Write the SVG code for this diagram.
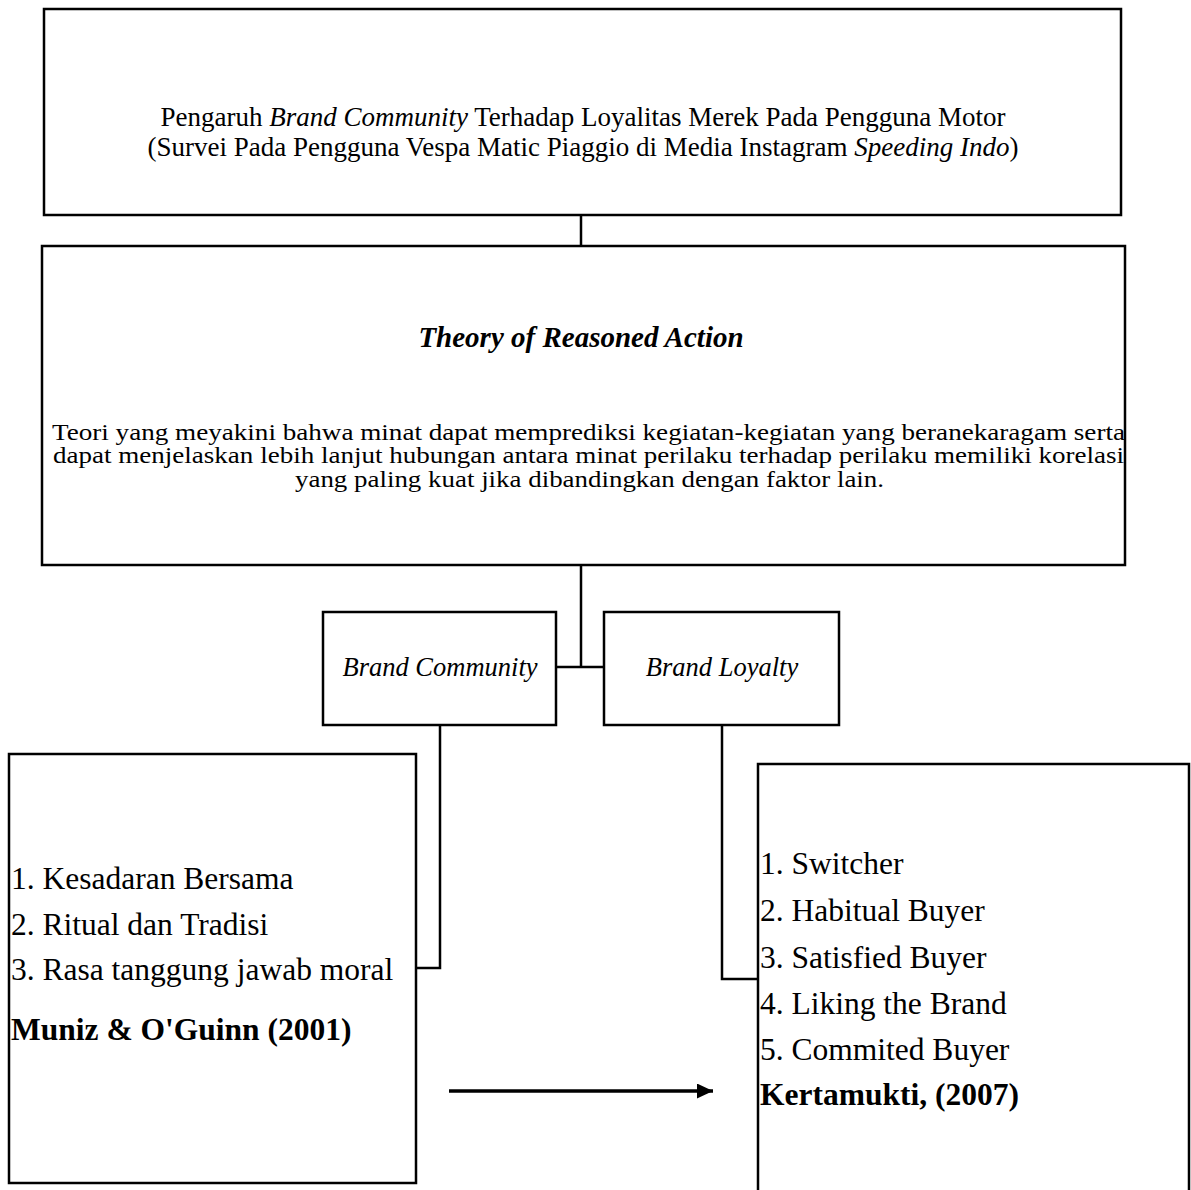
<svg xmlns="http://www.w3.org/2000/svg" width="1191" height="1190" viewBox="0 0 1191 1190">
<defs>
<style>
.box{fill:#fff;stroke:#000;stroke-width:2.5}
.ln{fill:none;stroke:#000;stroke-width:2.5}
.t{font-family:"Liberation Serif","Times New Roman",serif;fill:#000}
.it{font-style:italic}
.b{font-weight:bold}
</style>
<marker id="ah" markerWidth="16" markerHeight="15" refX="16" refY="7.5" orient="auto" markerUnits="userSpaceOnUse">
<path d="M0,0 L16,7.5 L0,15 Z" fill="#000"/>
</marker>
</defs>
<rect width="1191" height="1190" fill="#fff"/>
<g id="connectors">
<line class="ln" x1="581" y1="215" x2="581" y2="246"/>
<line class="ln" x1="581" y1="565" x2="581" y2="667"/>
<line class="ln" x1="556" y1="667" x2="604" y2="667"/>
<polyline class="ln" points="440,725 440,968 416,968"/>
<polyline class="ln" points="722,725 722,979 758,979"/>
<line x1="449" y1="1091" x2="713" y2="1091" stroke="#000" stroke-width="3.5" marker-end="url(#ah)"/>
</g>
<g id="node-title">
<rect class="box" x="44" y="9" width="1077" height="206"/>
<text class="t" x="583" y="126" font-size="27" text-anchor="middle">Pengaruh <tspan class="it">Brand Community</tspan> Terhadap Loyalitas Merek Pada Pengguna Motor</text>
<text class="t" x="583" y="156" font-size="27" text-anchor="middle">(Survei Pada Pengguna Vespa Matic Piaggio di Media Instagram <tspan class="it">Speeding Indo</tspan>)</text>
</g>
<g id="node-theory">
<rect class="box" x="42" y="246" width="1083" height="319"/>
<text class="t it b" x="581" y="347" font-size="29" text-anchor="middle">Theory of Reasoned Action</text>
<text class="t" x="52" y="440" font-size="24" textLength="1073" lengthAdjust="spacingAndGlyphs">Teori yang meyakini bahwa minat dapat memprediksi kegiatan-kegiatan yang beranekaragam serta</text>
<text class="t" x="53" y="463" font-size="24" textLength="1071" lengthAdjust="spacingAndGlyphs">dapat menjelaskan lebih lanjut hubungan antara minat perilaku terhadap perilaku memiliki korelasi</text>
<text class="t" x="295" y="487" font-size="24" textLength="589" lengthAdjust="spacingAndGlyphs">yang paling kuat jika dibandingkan dengan faktor lain.</text>
</g>
<g id="node-brand-community">
<rect class="box" x="323" y="612" width="233" height="113"/>
<text class="t it" x="440" y="676" font-size="26.5" text-anchor="middle">Brand Community</text>
</g>
<g id="node-brand-loyalty">
<rect class="box" x="604" y="612" width="235" height="113"/>
<text class="t it" x="722" y="676" font-size="26.5" text-anchor="middle">Brand Loyalty</text>
</g>
<g id="node-bc-dimensions">
<rect class="box" x="9" y="754" width="407" height="429"/>
<text class="t" x="11" y="889" font-size="31.5">1. Kesadaran Bersama</text>
<text class="t" x="11" y="935" font-size="31.5">2. Ritual dan Tradisi</text>
<text class="t" x="11" y="980" font-size="31.5">3. Rasa tanggung jawab moral</text>
<text class="t b" x="11" y="1040" font-size="31.5">Muniz &amp; O'Guinn (2001)</text>
</g>
<g id="node-bl-dimensions">
<path class="ln" d="M758,1192 L758,764 L1189,764 L1189,1192"/>
<text class="t" x="760" y="873.5" font-size="31.5">1. Switcher</text>
<text class="t" x="760" y="920.5" font-size="31.5">2. Habitual Buyer</text>
<text class="t" x="760" y="967.5" font-size="31.5">3. Satisfied Buyer</text>
<text class="t" x="760" y="1013.5" font-size="31.5">4. Liking the Brand</text>
<text class="t" x="760" y="1059.5" font-size="31.5">5. Commited Buyer</text>
<text class="t b" x="760" y="1104.5" font-size="31.5">Kertamukti, (2007)</text>
</g>
</svg>
